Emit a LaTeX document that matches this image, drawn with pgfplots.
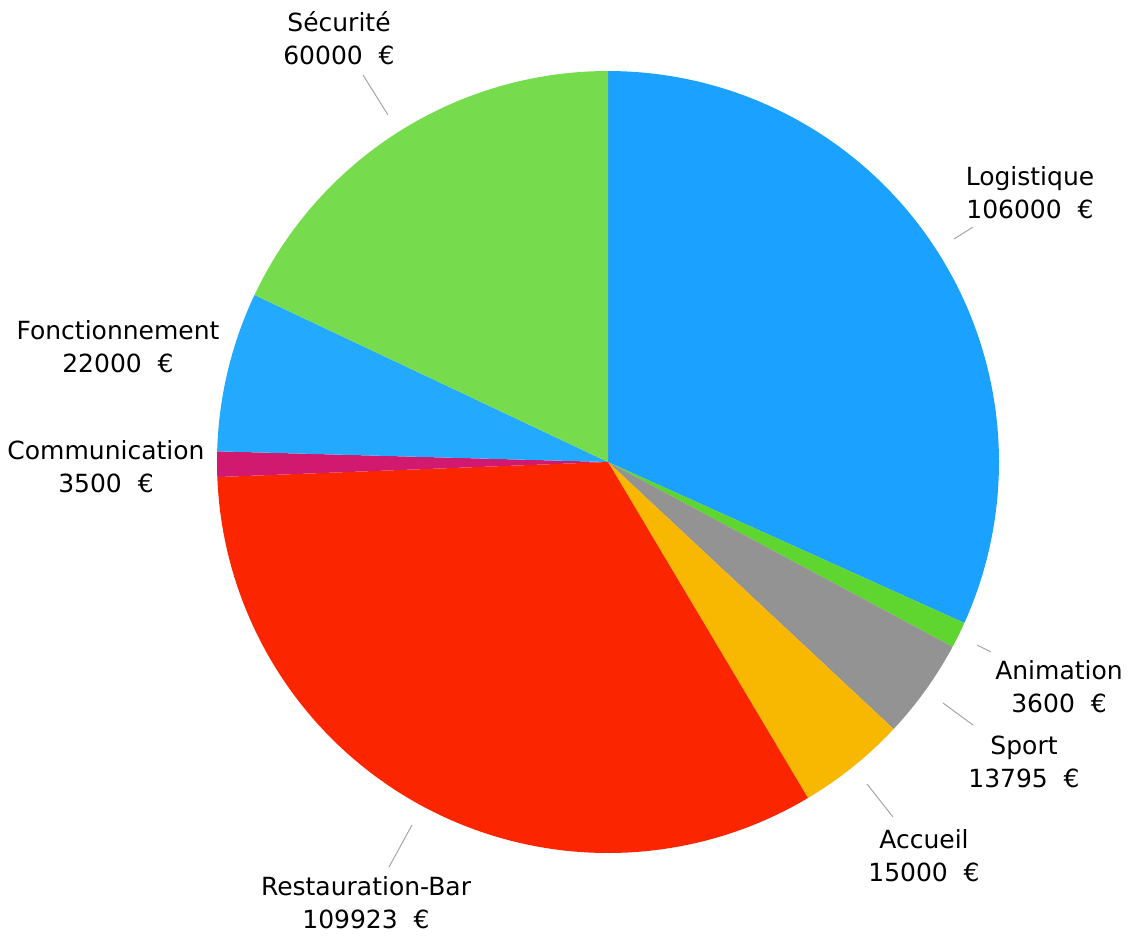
\documentclass[border=0pt]{standalone}
\usepackage{pgfplots}
\pgfplotsset{compat=1.18}
\usepackage{fontspec}
\setmainfont{DejaVu Sans}

\definecolor{cLog}{HTML}{1BA1FF}
\definecolor{cAni}{HTML}{5FD62F}
\definecolor{cSpo}{HTML}{939393}
\definecolor{cAcc}{HTML}{F8B700}
\definecolor{cRes}{HTML}{FB2600}
\definecolor{cCom}{HTML}{D0196F}
\definecolor{cFon}{HTML}{23A9FD}
\definecolor{cSec}{HTML}{76DC4E}

% centre et rayon du disque (en pixels de la figure)
\def\cx{608}
\def\cy{462}
\def\rr{391}
\def\total{333818}
\xdef\cum{0}

% une part : valeur, couleur (sens horaire depuis midi)
\newcommand\slice[2]{%
  \begingroup
  \pgfkeys{/pgf/fpu=true,/pgf/fpu/output format=fixed}%
  \pgfmathparse{90-360*\cum/\total}\xdef\sa{\pgfmathresult}%
  \pgfmathparse{90-360*(\cum+#1)/\total}\xdef\ea{\pgfmathresult}%
  \pgfmathparse{\cum+#1}\xdef\cum{\pgfmathresult}%
  \endgroup
  \edef\cmd{\noexpand\addplot[fill=#2, draw=none, domain=\ea:\sa, samples=90]
    ({\cx+\rr*cos(x)},{\cy-\rr*sin(x)}) -- (axis cs:\cx,\cy) -- cycle;}%
  \cmd
}

\begin{document}
\begin{tikzpicture}
\begin{axis}[
    scale only axis,
    width=564pt, height=469pt,
    xmin=0, xmax=1128,
    ymin=0, ymax=938,
    y dir=reverse,
    hide axis,
    clip=false,
]
\slice{106000}{cLog}
\slice{3600}{cAni}
\slice{13795}{cSpo}
\slice{15000}{cAcc}
\slice{109923}{cRes}
\slice{3500}{cCom}
\slice{22000}{cFon}
\slice{60000}{cSec}

% traits de rappel
\draw[gray!70, line width=0.5pt] (axis cs:388,115) -- (axis cs:363,75);
\draw[gray!70, line width=0.5pt] (axis cs:954,239) -- (axis cs:973,227);
\draw[gray!70, line width=0.5pt] (axis cs:977,645) -- (axis cs:991,652);
\draw[gray!70, line width=0.5pt] (axis cs:943,703) -- (axis cs:973,725);
\draw[gray!70, line width=0.5pt] (axis cs:867,784) -- (axis cs:893,817);
\draw[gray!70, line width=0.5pt] (axis cs:412,825) -- (axis cs:389,867);

% étiquettes
\tikzset{lab/.style={align=center, inner sep=0pt, font=\fontsize{12.5}{16.5}\selectfont}}
\node[lab] at (axis cs:339,38)  {Sécurité\\60000~~€};
\node[lab] at (axis cs:1030,193) {Logistique\\106000~~€};
\node[lab] at (axis cs:118,347) {Fonctionnement\\22000~~€};
\node[lab] at (axis cs:106,467) {Communication\\3500~~€};
\node[lab] at (axis cs:1059,687) {Animation\\3600~~€};
\node[lab] at (axis cs:1024,762) {Sport\\13795~~€};
\node[lab] at (axis cs:924,856) {Accueil\\15000~~€};
\node[lab] at (axis cs:366,903) {Restauration-Bar\\109923~~€};
\end{axis}
\pgfresetboundingbox
\path[use as bounding box] (current axis.south west) rectangle (current axis.north east);
\end{tikzpicture}
\end{document}
